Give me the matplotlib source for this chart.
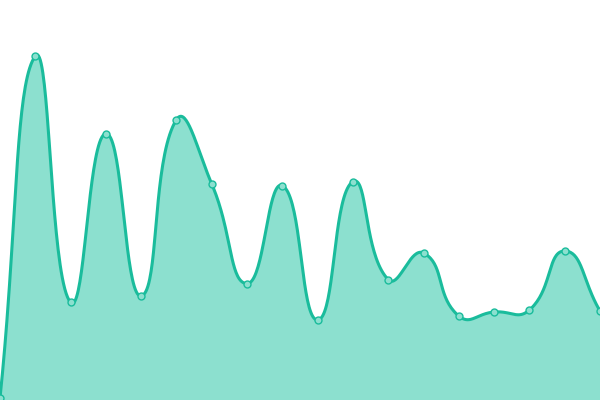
import numpy as np
import matplotlib
matplotlib.use("Agg")
import matplotlib.pyplot as plt

# Data
categories = list(range(18))
values = [0.5, 86, 24.4, 66.6, 26, 70.1, 54, 29.1, 53.6, 20, 54.6, 30.1,
          36.75, 21, 22, 22.5, 37.25, 22.25]

LINE = "#1abc9c"
FILL = "#8ce0cf"

fig = plt.figure(figsize=(6, 4), dpi=100)
ax = fig.add_axes([0, 0, 1, 1])
ax.set_xlim(0, len(categories) - 1)
ax.set_ylim(0, 100)
ax.axis("off")

# Smooth path (ECharts-like bezier smoothing, smooth=0.5) in display space
pts = ax.transData.transform(np.column_stack([categories, values]))
n = len(pts)
smooth = 0.5
cps_in = []
cps_out = []
for i in range(n):
    p = pts[i]
    prev = pts[i - 1] if i > 0 else p
    nxt = pts[i + 1] if i < n - 1 else p
    v = nxt - prev
    d0 = np.hypot(*(p - prev))
    d1 = np.hypot(*(nxt - p))
    s = d0 + d1
    r = d1 / s if s > 0 else 0.5
    cps_in.append(p - v * smooth * (1 - r))
    cps_out.append(p + v * smooth * r)

curve = []
t = np.linspace(0, 1, 40)[:, None]
for i in range(n - 1):
    P0, P1, P2, P3 = pts[i], cps_out[i], cps_in[i + 1], pts[i + 1]
    seg = ((1 - t) ** 3) * P0 + 3 * ((1 - t) ** 2) * t * P1 + 3 * (1 - t) * t ** 2 * P2 + t ** 3 * P3
    curve.append(seg if i == 0 else seg[1:])
curve = np.vstack(curve)
data_curve = ax.transData.inverted().transform(curve)

ax.fill_between(data_curve[:, 0], 0, data_curve[:, 1], color=FILL, lw=0, zorder=1)
ax.plot(data_curve[:, 0], data_curve[:, 1], color=LINE, lw=2.2, zorder=2,
        solid_capstyle="round", solid_joinstyle="round")
ax.plot(categories, values, "o", ms=5, mfc=FILL, mec=LINE, mew=1.0, zorder=3,
        clip_on=False)

fig.savefig("out.png", dpi=100)
